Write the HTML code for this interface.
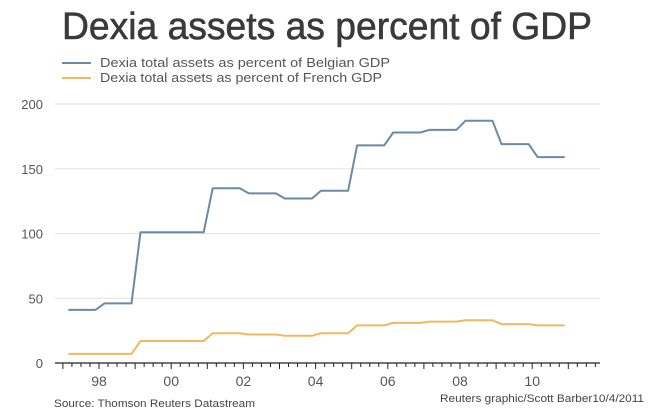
<!DOCTYPE html>
<html><head><meta charset="utf-8"><style>
html,body{margin:0;padding:0;background:#fff;}
svg{display:block;font-family:"Liberation Sans",Arial,sans-serif;}
</style></head><body>
<svg id="chart" width="650" height="413" viewBox="0 0 650 413">
<text x="62" y="39" font-size="38" fill="#3a3a3a" stroke="#3a3a3a" stroke-width="0.6" textLength="530" lengthAdjust="spacingAndGlyphs">Dexia assets as percent of GDP</text>
<g>
<line x1="62" y1="63" x2="91" y2="63" stroke="#6b8aa5" stroke-width="2"/>
<text x="100" y="67" font-size="13" fill="#555" textLength="290" lengthAdjust="spacingAndGlyphs">Dexia total assets as percent of Belgian GDP</text>
<line x1="62" y1="78" x2="91" y2="78" stroke="#f0b860" stroke-width="2"/>
<text x="100" y="82" font-size="13" fill="#555" textLength="282" lengthAdjust="spacingAndGlyphs">Dexia total assets as percent of French GDP</text>
</g>
<g id="grid"></g><g id="axes"></g><g id="series"></g>
<text x="54" y="407" font-size="11" fill="#444" textLength="201" lengthAdjust="spacingAndGlyphs">Source: Thomson Reuters Datastream</text>
<text x="440" y="402" font-size="11" fill="#444" textLength="204" lengthAdjust="spacingAndGlyphs">Reuters graphic/Scott Barber10/4/2011</text>
</svg>
<script>
const years = [1997,1998,1999,2000,2001,2002,2003,2004,2005,2006,2007,2008,2009,2010];
const belgianByYear = [41,46,101,101,135,131,127,133,168,178,180,187,169,159];
const frenchByYear = [7,7,17,17,23,22,21,23,29,31,32,33,30,29];
const yTicks = [0,50,100,150,200];
const xTickLabels = ["98","00","02","04","06","08","10"];
const xTickYears = [1998,2000,2002,2004,2006,2008,2010];

const NS="http://www.w3.org/2000/svg";
const X0=55,X1=600,Y0=363,YT=104;
const xS=t=>99+(t-1998)*36.1;
const yS=v=>Y0-(v/200)*(Y0-YT);
function mk(tag,attrs,parent){const e=document.createElementNS(NS,tag);for(const k in attrs)e.setAttribute(k,attrs[k]);parent.appendChild(e);return e;}
const grid=document.getElementById('grid'),axes=document.getElementById('axes'),series=document.getElementById('series');
yTicks.forEach(v=>{
  if(v>0){const g=mk('line',{x1:X0,x2:X1,y1:yS(v),y2:yS(v),stroke:'#e2e2e2','stroke-width':1},grid);
  
  }
  const t=mk('text',{x:43,y:yS(v)+5,'font-size':13,fill:'#555','text-anchor':'end'},axes);
  t.textContent=v;
  
  
});
const ax=mk('line',{x1:X0,x2:X1,y1:Y0,y2:Y0,stroke:'#222','stroke-width':1.2},axes);


for(let t=1997;t<=2011.76;t+=0.25){
  const x=xS(t); if(x<X0||x>X1)continue;
  const major=Math.abs(t-Math.round(t))<0.01;
  const tk=mk('line',{x1:x,x2:x,y1:Y0,y2:Y0+(major?6:4),stroke:'#222','stroke-width':1},axes);
  
  
}
xTickLabels.forEach((l,i)=>{
  const t=mk('text',{x:xS(xTickYears[i]),y:386,'font-size':14,fill:'#555','text-anchor':'middle'},axes);
  t.textContent=l;
  
  
});
function pts(arr){const p=[];years.forEach((y,i)=>{for(let q=0;q<4;q++){p.push([xS(y+q*0.25+0.15),yS(arr[i])]);}});return p.map(a=>a[0].toFixed(1)+','+a[1].toFixed(1)).join(' ');}
const fr=mk('polyline',{points:pts(frenchByYear),fill:'none',stroke:'#f0b860','stroke-width':2,'stroke-linejoin':'round'},series);


const be=mk('polyline',{points:pts(belgianByYear),fill:'none',stroke:'#6b8aa5','stroke-width':2,'stroke-linejoin':'round'},series);


</script>
</body></html>
